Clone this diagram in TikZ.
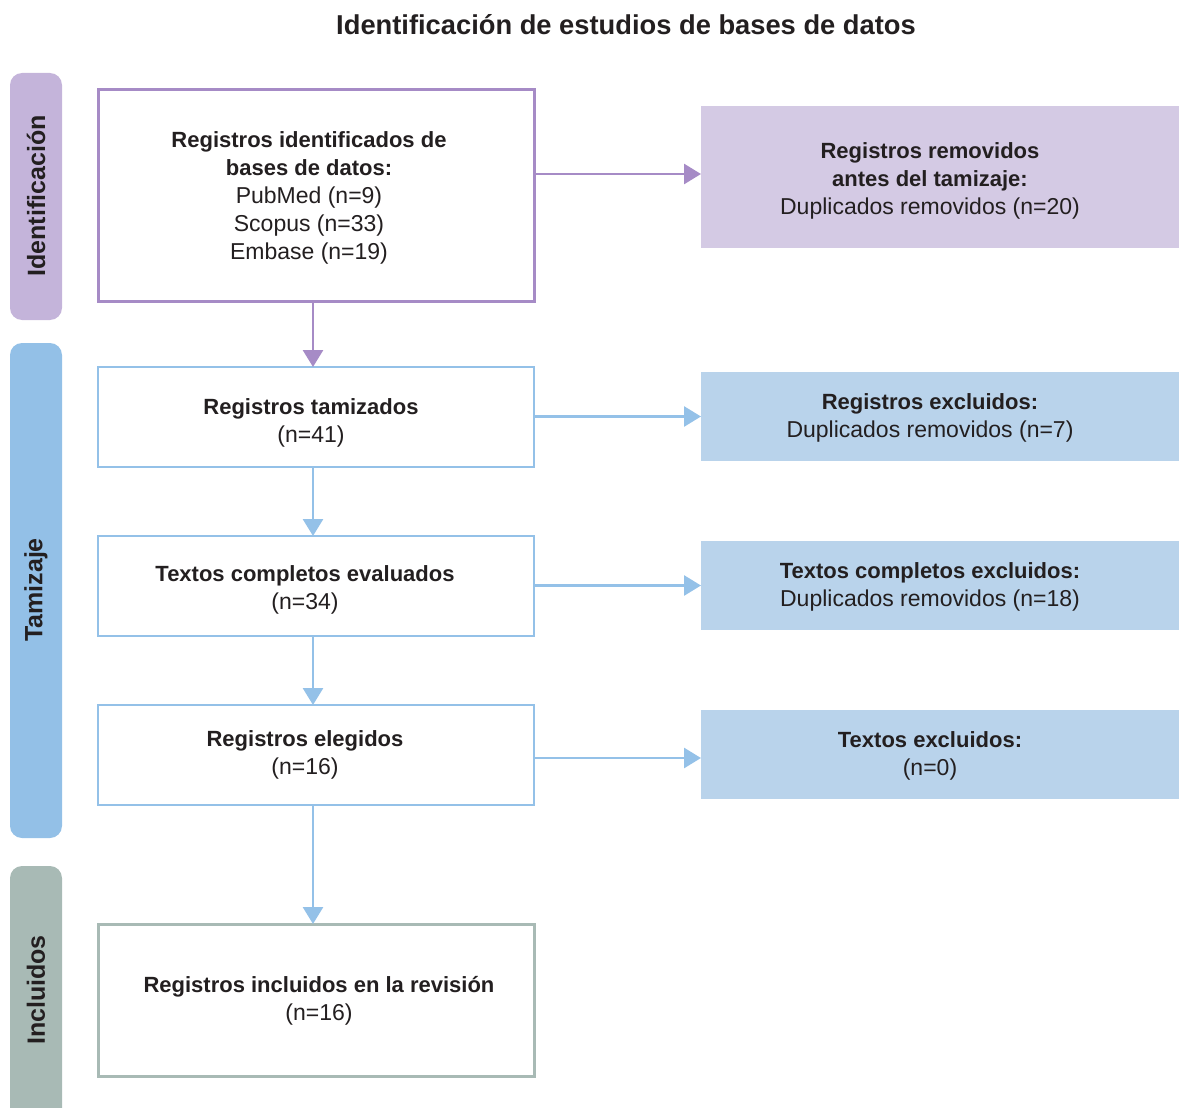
\documentclass[tikz,border=0pt]{standalone}
\usepackage{fontspec}
\setmainfont{Liberation Sans}
\usetikzlibrary{arrows.meta}
\definecolor{purp}{HTML}{A68BC6}
\definecolor{purpfill}{HTML}{D4CAE4}
\definecolor{purpside}{HTML}{C4B4DA}
\definecolor{blu}{HTML}{94C1E8}
\definecolor{blufill}{HTML}{B9D3EB}
\definecolor{bluside}{HTML}{93C0E7}
\definecolor{gry}{HTML}{A8BAB5}
\definecolor{txt}{HTML}{231F20}
\newcommand{\hd}[1]{{\fontsize{22}{28}\selectfont\bfseries #1}}
\begin{document}
\begin{tikzpicture}[x=1pt,y=-1pt,
  every node/.style={text=txt, font=\fontsize{23}{28}\selectfont, align=center, inner sep=0pt, outer sep=0pt},
  mainbox/.style={draw, fill=white, minimum width=436pt},
  sidebox/.style={fill, minimum width=478pt, draw=none},
  sidebar/.style={rounded corners=12pt},
  sidelabel/.style={rotate=90, font=\fontsize{25}{28}\selectfont\bfseries},
  arr/.style={line width=2.8pt, -{Triangle[width=20pt,length=17pt]}}
]
\useasboundingbox (0,0) rectangle (1179,1108);
\clip (0,0) rectangle (1179,1108);
% title
\node (title) at (626,25) {\fontsize{27.3}{30}\selectfont\bfseries Identificación de estudios de bases de datos};
% side bars
\fill[purpside, sidebar] (10,73) rectangle (62,320);
\fill[bluside, sidebar] (10,343) rectangle (62,838);
\fill[gry, sidebar] (10,866) rectangle (62,1140);
\node[sidelabel] (lid) at (36,196) {Identificación};
\node[sidelabel] (ltam) at (36,590) {Tamizaje};
\node[sidelabel] (linc) at (36,990) {Incluidos};
% main boxes
\node[mainbox, draw=purp, line width=3pt, minimum height=211pt] (b1) at (316,195.5) {};
\node[mainbox, draw=blu, line width=2.2pt, minimum height=100pt] (b2) at (316,417) {};
\node[mainbox, draw=blu, line width=2.2pt, minimum height=100pt] (b3) at (316,586) {};
\node[mainbox, draw=blu, line width=2.2pt, minimum height=100pt] (b4) at (316,755) {};
\node[mainbox, draw=gry, line width=3pt, minimum height=152pt] (b5) at (316,1000) {};
\node (t1) at (309,197.5) {\hd{Registros identificados de}\\\hd{bases de datos:}\\PubMed (n=9)\\Scopus (n=33)\\Embase (n=19)};
\node (t2) at (311,423) {\hd{Registros tamizados}\\(n=41)};
\node (t3) at (305,590) {\hd{Textos completos evaluados}\\(n=34)};
\node (t4) at (305,755) {\hd{Registros elegidos}\\(n=16)};
\node (t5) at (319,1001) {\hd{Registros incluidos en la revisión}\\(n=16)};
% side boxes
\node[sidebox, fill=purpfill, minimum height=142pt] (r1) at (940,177) {};
\node[sidebox, fill=blufill, minimum height=89pt] (e1) at (940,416.5) {};
\node[sidebox, fill=blufill, minimum height=89pt] (e2) at (940,585.5) {};
\node[sidebox, fill=blufill, minimum height=89pt] (e3) at (940,754.5) {};
\node (tr1) at (930,181) {\hd{Registros removidos}\\\hd{antes del tamizaje:}\\Duplicados removidos (n=20)};
\node (te1) at (930,418) {\hd{Registros excluidos:}\\Duplicados removidos (n=7)};
\node (te2) at (930,587) {\hd{Textos completos excluidos:}\\Duplicados removidos (n=18)};
\node (te3) at (930,756) {\hd{Textos excluidos:}\\(n=0)};
% arrows
\coordinate (vx) at (313,0);
\coordinate (h1) at (0,174);
\coordinate (h4) at (0,758);
\draw[arr, purp] (b1.south -| vx) -- (b2.north -| vx);
\draw[arr, blu] (b2.south -| vx) -- (b3.north -| vx);
\draw[arr, blu] (b3.south -| vx) -- (b4.north -| vx);
\draw[arr, blu] (b4.south -| vx) -- (b5.north -| vx);
\draw[arr, purp] (b1.east |- h1) -- (r1.west |- h1);
\draw[arr, blu] (b2.east |- e1.west) -- (e1.west);
\draw[arr, blu] (b3.east |- e2.west) -- (e2.west);
\draw[arr, blu] (b4.east |- h4) -- (e3.west |- h4);
\end{tikzpicture}
\end{document}
